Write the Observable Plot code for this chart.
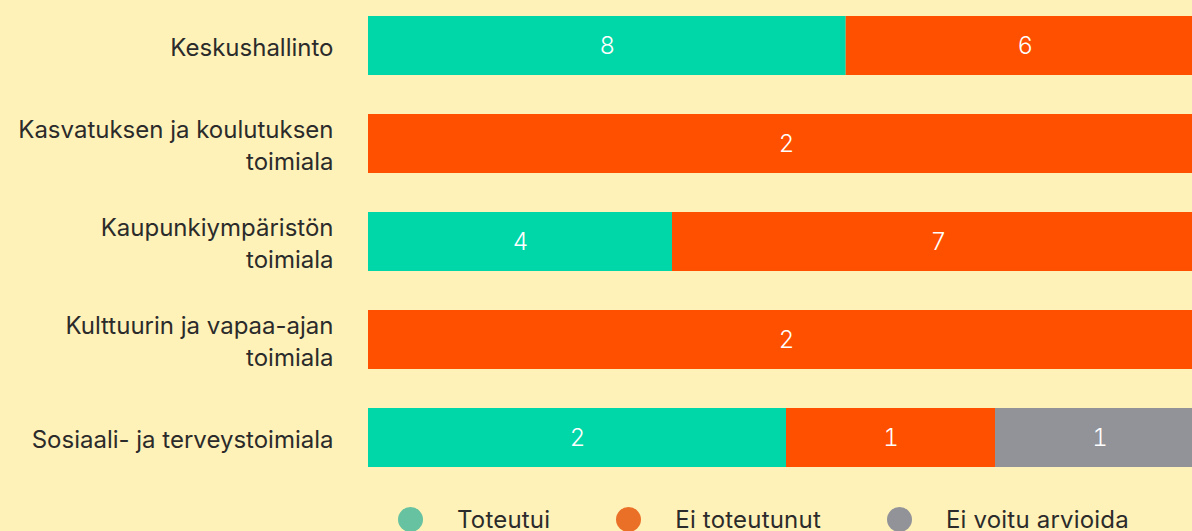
<!DOCTYPE html>
<html>
<head>
<meta charset="utf-8">
<script src="https://cdn.jsdelivr.net/npm/d3@7"></script>
<script src="https://cdn.jsdelivr.net/npm/@observablehq/plot@0.6"></script>
<style>
  html, body { margin: 0; padding: 0; background: #fff2b8; overflow: hidden; }
  #wrap { position: relative; width: 1192px; height: 531px; overflow: hidden; background: #fff2b8; }
  #chart { position: absolute; left: 0; top: 0; width: 1204px; }
  #chart svg { max-width: none !important; }
  #legend { position: absolute; left: 398px; top: 505px; display: flex; align-items: center;
    font-family: Inter, "Noto Sans", sans-serif; font-size: 24px; letter-spacing: 0.2px; color: #2b2b2b; white-space: nowrap; }
  .item { display: flex; align-items: center; margin-right: 66px; }
  .dot { width: 25px; height: 25px; border-radius: 50%; margin-right: 34px; }
</style>
</head>
<body>
<div id="wrap">
  <div id="chart"></div>
  <div id="legend"></div>
</div>
<script>
const categories = [
  "Keskushallinto",
  "Kasvatuksen ja koulutuksen\ntoimiala",
  "Kaupunkiympäristön\ntoimiala",
  "Kulttuurin ja vapaa-ajan\ntoimiala",
  "Sosiaali- ja terveystoimiala"
];
const statuses = ["Toteutui", "Ei toteutunut", "Ei voitu arvioida"];
const toteutui = [8, 0, 4, 0, 2];
const eiToteutunut = [6, 2, 7, 2, 1];
const eiVoitu = [0, 0, 0, 0, 1];
const barColors = ["#00d7a8", "#ff5000", "#919399"];
const legendColors = ["#66c2a0", "#ea7028", "#919399"];

const series = [toteutui, eiToteutunut, eiVoitu];
const rows = [];
categories.forEach((c, i) => {
  statuses.forEach((s, j) => {
    if (series[j][i] > 0) rows.push({category: c, status: s, value: series[j][i]});
  });
});

const stackOpts = {y: "category", x: "value", z: "status", order: statuses, offset: "normalize"};

const chart = Plot.plot({
  width: 1204,
  height: 482,
  marginLeft: 368,
  marginRight: 0,
  marginTop: 0,
  marginBottom: 0,
  style: {background: "transparent", fontFamily: "Inter, 'Noto Sans', sans-serif", maxWidth: "none"},
  x: {axis: null},
  y: {domain: categories, paddingInner: 0.4, paddingOuter: 0.15, label: null},
  color: {domain: statuses, range: barColors},
  marks: [
    Plot.barX(rows, Plot.stackX({...stackOpts, fill: "status"})),
    Plot.text(rows, Plot.stackX({...stackOpts, text: "value", fill: "white",
      fontSize: 24, fontWeight: 300})),
    Plot.axisY({tickSize: 0, tickPadding: 35, fontSize: 24, lineHeight: 1.33,
      fill: "#2b2b2b", label: null, style: {letterSpacing: "0.55px"}})
  ]
});
chart.style.maxWidth = "none";
document.getElementById("chart").appendChild(chart);

const legend = document.getElementById("legend");
statuses.forEach((s, i) => {
  const item = document.createElement("div");
  item.className = "item";
  const dot = document.createElement("span");
  dot.className = "dot";
  dot.style.background = legendColors[i];
  const label = document.createElement("span");
  label.textContent = s;
  item.appendChild(dot);
  item.appendChild(label);
  legend.appendChild(item);
});
</script>
</body>
</html>
